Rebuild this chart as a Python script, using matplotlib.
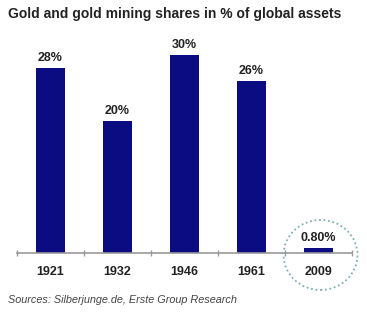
import matplotlib
matplotlib.use("Agg")
import matplotlib.pyplot as plt
from matplotlib.patches import Ellipse

years = ["1921", "1932", "1946", "1961", "2009"]
shares = [28, 20, 30, 26, 0.8]
labels = ["28%", "20%", "30%", "26%", "0.80%"]

plt.rcParams['font.family'] = ['Liberation Sans', 'DejaVu Sans']

W, H = 367, 333
fig = plt.figure(figsize=(W / 100, H / 100), dpi=100)
fig.patch.set_facecolor("white")

ax = fig.add_axes([17 / W, (H - 253) / H, 335 / W, 213 / H])
x = list(range(len(years)))
ax.bar(x, shares, width=0.42, color="#0b0b82", zorder=2)
ax.set_xlim(-0.5, len(years) - 0.5)
ax.set_ylim(0, 213 / 6.6)

for xi, v, lab in zip(x, shares, labels):
    ax.text(xi, v + 0.6, lab, ha="center", va="bottom", fontsize=9,
            fontweight="bold", color="#222222")

for s in ["top", "right", "left"]:
    ax.spines[s].set_visible(False)
ax.spines["bottom"].set_color("#999999")
ax.spines["bottom"].set_linewidth(1.2)
ax.set_yticks([])
ax.set_xticks([i - 0.5 for i in range(len(years) + 1)], minor=False)
ax.set_xticklabels([])
ax.tick_params(axis="x", direction="inout", length=5, color="#999999", width=1)
for xi, y in zip(x, years):
    ax.text(xi, -2.9, y, ha="center", va="center", fontsize=9,
            fontweight="bold", color="#222222")

# dotted circle around the latest value
circ = Ellipse((4.03, -0.3), width=74 / 67, height=70 / 6.6, fill=False,
               linestyle=(0, (1, 1.5)), edgecolor="#7fb0b0", linewidth=1.3,
               clip_on=False, zorder=3)
ax.add_patch(circ)

fig.text(8 / W, 1 - 14 / H, "Gold and gold mining shares in % of global assets",
         ha="left", va="center", fontsize=10, fontweight="bold", color="#222222")
fig.text(8 / W, 1 - 300 / H, "Sources: Silberjunge.de, Erste Group Research",
         ha="left", va="center", fontsize=7.8, style="italic", color="#444444")

fig.savefig("out.png", dpi=100)
